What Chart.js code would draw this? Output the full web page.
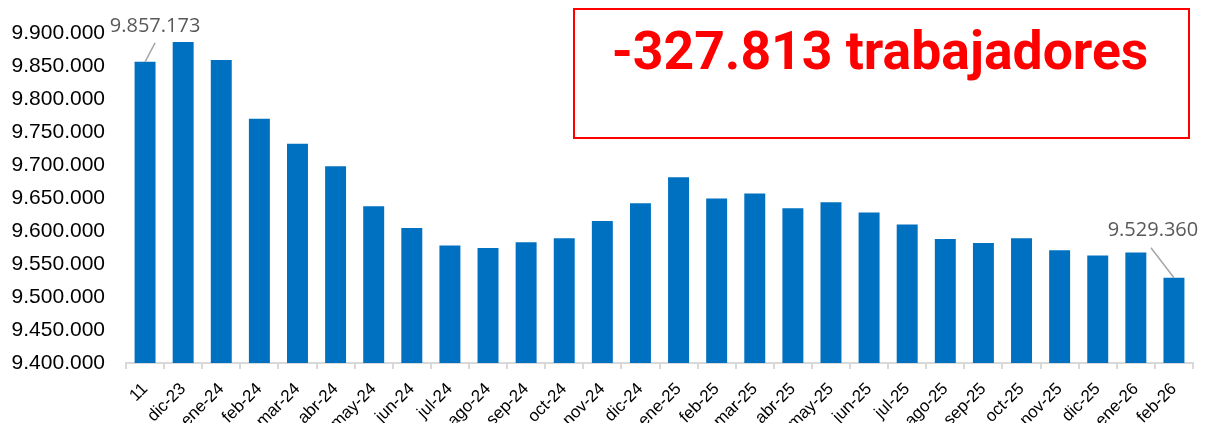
<!DOCTYPE html>
<html>
<head>
<meta charset="utf-8">
<script src="https://cdn.jsdelivr.net/npm/chart.js@4/dist/chart.umd.min.js"></script>
<style>
  html, body { margin: 0; padding: 0; background: #fff; overflow: hidden; }
  #wrap { width: 1205px; height: 423px; }
</style>
</head>
<body>
<div id="wrap"><canvas id="afiliados" width="1205" height="423"></canvas></div>
<script>
// meses
const months = ["11", "dic-23", "ene-24", "feb-24", "mar-24", "abr-24", "may-24", "jun-24",
  "jul-24", "ago-24", "sep-24", "oct-24", "nov-24", "dic-24", "ene-25", "feb-25", "mar-25",
  "abr-25", "may-25", "jun-25", "jul-25", "ago-25", "sep-25", "oct-25", "nov-25", "dic-25",
  "ene-26", "feb-26"];

// trabajadores (primero y ultimo exactos)
const workers = [9857173, 9887400, 9860100, 9770700, 9732800, 9698500, 9637900, 9605000,
  9578500, 9574500, 9583300, 9589400, 9615400, 9642400, 9682000, 9649700, 9657300,
  9635000, 9643900, 9628300, 9610100, 9588300, 9582300, 9589400, 9571200, 9563100,
  9567700, 9529360];

const yTicks = [9400000, 9450000, 9500000, 9550000, 9600000, 9650000, 9700000, 9750000,
  9800000, 9850000, 9900000];

const headline = "-327.813 trabajadores";

function fmt(v) {
  return String(Math.round(v)).replace(/\B(?=(\d{3})+(?!\d))/g, ".");
}

// etiquetas del primer y ultimo mes con linea guia
const calloutPlugin = {
  id: "callouts",
  afterDatasetsDraw(chart) {
    const ctx = chart.ctx;
    const bars = chart.getDatasetMeta(0).data;
    const first = bars[0];
    const last = bars[bars.length - 1];
    ctx.save();
    ctx.strokeStyle = "#a6a6a6";
    ctx.lineWidth = 1.5;
    ctx.beginPath();
    ctx.moveTo(first.x, first.y);
    ctx.lineTo(first.x + 10, first.y - 19);
    ctx.moveTo(last.x, last.y);
    ctx.lineTo(last.x - 23, last.y - 30);
    ctx.stroke();

    ctx.fillStyle = "#595959";
    ctx.font = "20px 'Open Sans'";
    ctx.textAlign = "center";
    ctx.textBaseline = "middle";
    ctx.fillText(fmt(workers[0]), first.x + 10, first.y - 36);
    ctx.fillText(fmt(workers[workers.length - 1]), last.x - 21, last.y - 47);
    ctx.restore();
  },
  afterDraw(chart) {
    const ctx = chart.ctx;
    ctx.save();
    ctx.strokeStyle = "#ff0000";
    ctx.lineWidth = 2;
    ctx.strokeRect(574, 9, 615, 129);
    ctx.fillStyle = "#ff0000";
    ctx.font = "bold 53.5px Roboto";
    ctx.textAlign = "center";
    ctx.textBaseline = "alphabetic";
    ctx.fillText(headline, 880, 69);
    ctx.restore();
  }
};

var ctx = document.getElementById("afiliados").getContext("2d");
var chart = new Chart(ctx, {
  type: "bar",
  data: {
    labels: months,
    datasets: [{
      data: workers,
      backgroundColor: "#0070c0",
      borderWidth: 0,
      barPercentage: 0.55,
      categoryPercentage: 1.0,
    }],
  },
  options: {
    responsive: false,
    animation: false,
    layout: { padding: { left: 12, right: 12, top: 22, bottom: 0 } },
    plugins: {
      legend: { display: false },
      tooltip: { enabled: false },
      title: { display: false },
    },
    scales: {
      x: {
        afterFit(axis) {
          axis.height = 60;
        },
        grid: {
          offset: true,
          drawOnChartArea: false,
          drawTicks: true,
          tickLength: 6,
          color: "#d9d9d9",
          lineWidth: 2,
        },
        border: { display: true, color: "#d9d9d9", width: 2 },
        ticks: {
          color: "#000",
          font: { family: "'Liberation Sans', Arial", size: 17 },
          minRotation: 45,
          maxRotation: 45,
          autoSkip: false,
          padding: 10,
        },
      },
      y: {
        min: yTicks[0],
        max: yTicks[yTicks.length - 1],
        afterBuildTicks(axis) {
          axis.ticks = yTicks.map((v) => ({ value: v }));
        },
        afterFit(axis) {
          axis.width = 114;
        },
        grid: { display: false, drawTicks: false },
        border: { display: false },
        ticks: {
          color: "#000",
          font: { family: "'Liberation Sans', Arial", size: 21 },
          padding: 21,
          callback: (v) => fmt(v),
        },
      },
    },
  },
  plugins: [calloutPlugin],
});
</script>
</body>
</html>
